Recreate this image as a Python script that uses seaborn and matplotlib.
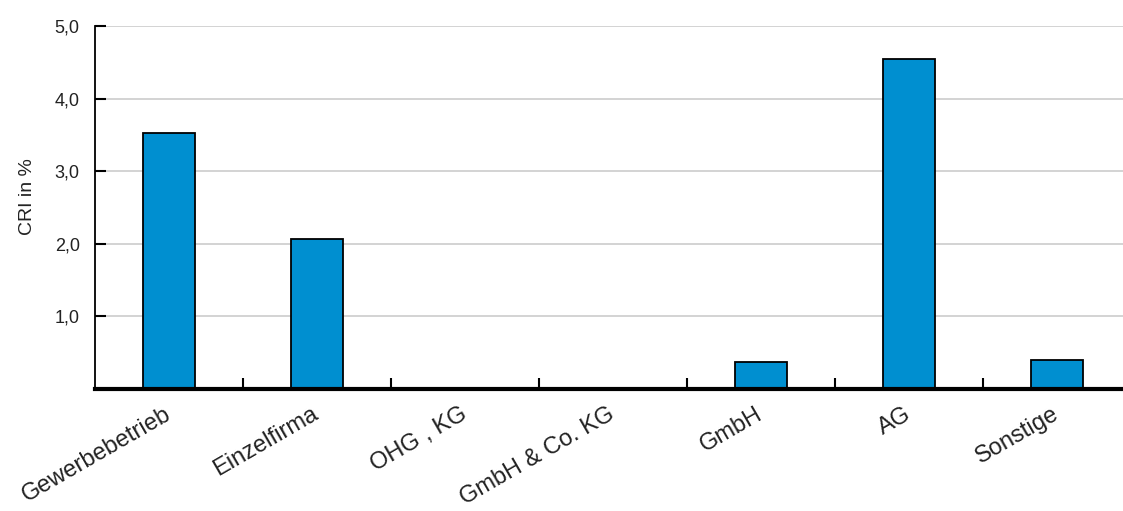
import matplotlib
matplotlib.use("Agg")
import matplotlib.pyplot as plt
import numpy as np
import pandas as pd
import seaborn as sns
from matplotlib import ticker

# data
categories = ["Gewerbebetrieb", "Einzelfirma", "OHG , KG", "GmbH & Co. KG", "GmbH", "AG", "Sonstige"]
cri_values = [3.53, 2.07, 0.0, 0.0, 0.37, 4.55, 0.40]
ytick_values = [1.0, 2.0, 3.0, 4.0, 5.0]
ytick_labels = ["1,0", "2,0", "3,0", "4,0", "5,0"]

df = pd.DataFrame({"Rechtsform": categories, "CRI": cri_values})

sns.set_style("white", {"xtick.bottom": True, "ytick.left": True})
plt.rcParams['font.family'] = ['Liberation Sans', 'DejaVu Sans']
text_color = "#222222"

fig = plt.figure(figsize=(11.23, 5.11), dpi=100)
ax = fig.add_axes([95 / 1123, 122 / 511, 1036 / 1123, 363 / 511])

sns.barplot(data=df, x="Rechtsform", y="CRI", color="#008fd0", width=0.35,
            edgecolor="black", linewidth=1.3, saturation=1, ax=ax, zorder=3)

ax.set_ylim(0, 5.0)
ax.set_xlim(-0.5, 6.5)

# grid + y ticks
ax.set_yticks(ytick_values)
ax.set_yticklabels(ytick_labels, fontsize=13, color=text_color)
ax.yaxis.grid(True, color="#cccccc", linewidth=1.2, zorder=0)
ax.tick_params(axis="y", left=True, direction="in", length=8, width=1.5, color="black", pad=11)

# category labels, separators between categories as minor ticks
ax.set_xticks(range(len(categories)))
ax.set_xticklabels(categories, rotation=30, ha="right", va="center", rotation_mode="anchor",
                   fontsize=17, color=text_color)
ax.tick_params(axis="x", which="major", bottom=True, length=0, pad=17)
ax.xaxis.set_minor_locator(ticker.FixedLocator(np.arange(0.5, len(categories) - 1, 1.0)))
ax.tick_params(axis="x", which="minor", bottom=True, direction="in", length=8, width=1.5, color="black")

ax.set_xlabel("")
ax.set_ylabel("CRI in %", fontsize=14, color=text_color)
ax.yaxis.set_label_coords(-0.057, 0.53)

for side in ["top", "right"]:
    ax.spines[side].set_visible(False)
ax.spines["left"].set_color("black")
ax.spines["left"].set_linewidth(1.3)
ax.spines["bottom"].set_color("black")
ax.spines["bottom"].set_linewidth(3)
ax.spines["bottom"].set_zorder(5)

fig.savefig("out.png", dpi=100)
